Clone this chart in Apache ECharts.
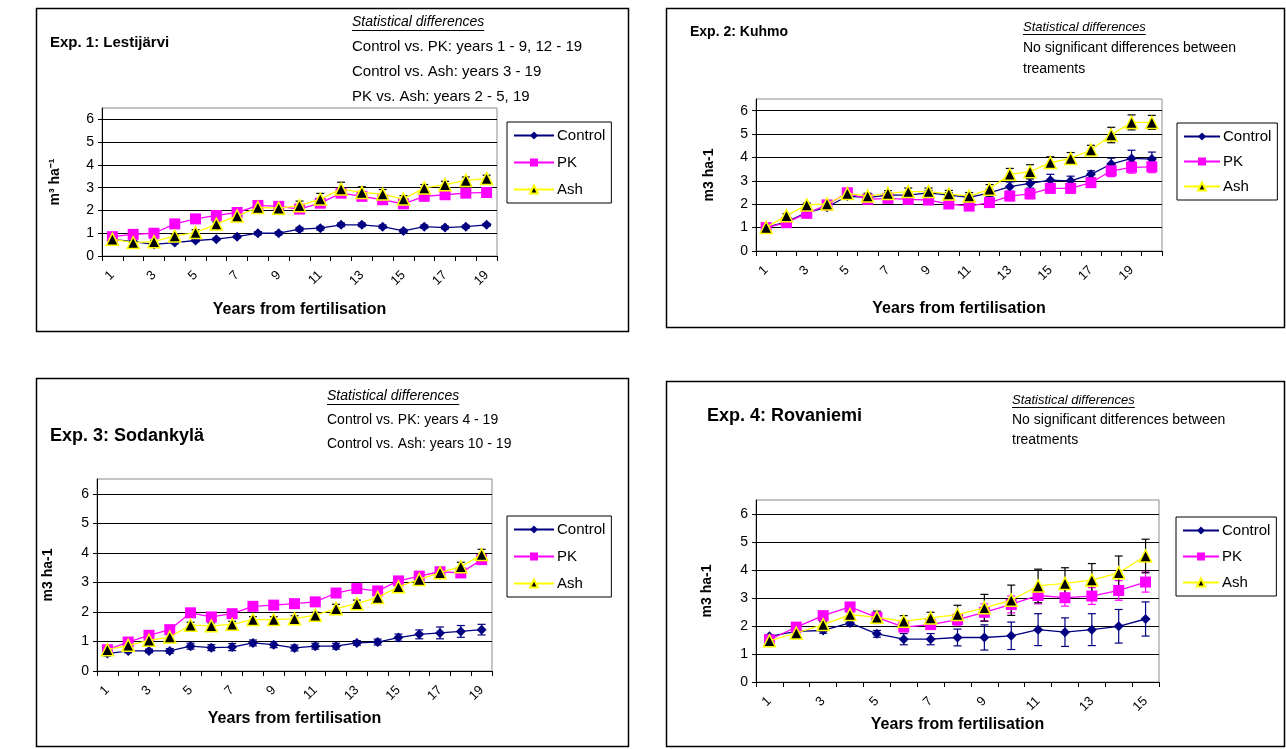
<!DOCTYPE html>
<html><head><meta charset="utf-8">
<script src="https://cdn.jsdelivr.net/npm/echarts@6/dist/echarts.min.js"></script>
<style>html,body{margin:0;padding:0;background:#fff}#c{width:1286px;height:749px}</style>
</head><body><div id="c"></div>
<script>
// ---------- DATA ----------
const years19 = ['1','2','3','4','5','6','7','8','9','10','11','12','13','14','15','16','17','18','19'];
const years20 = ['1','2','3','4','5','6','7','8','9','10','11','12','13','14','15','16','17','18','19','20'];
const years15 = ['1','2','3','4','5','6','7','8','9','10','11','12','13','14','15'];

// Exp. 1 Lestijärvi
const e1Control = [0.73,0.63,0.51,0.59,0.68,0.74,0.85,1.00,1.00,1.18,1.22,1.37,1.37,1.29,1.10,1.29,1.25,1.29,1.37];
const e1PK      = [0.85,0.95,1.00,1.41,1.63,1.78,1.91,2.22,2.18,2.06,2.32,2.76,2.62,2.47,2.29,2.62,2.69,2.76,2.79];
const e1Ash     = [0.74,0.59,0.63,0.88,1.03,1.40,1.76,2.13,2.10,2.21,2.50,2.94,2.79,2.72,2.50,2.99,3.13,3.32,3.40];
const e1ControlErr = [0.04,0.04,0.05,0.05,0.05,0.05,0.05,0.07,0.07,0.08,0.08,0.08,0.08,0.07,0.07,0.07,0.06,0.06,0.06];
const e1PKErr      = [0.05,0.05,0.05,0.07,0.08,0.08,0.08,0.1,0.1,0.1,0.12,0.12,0.12,0.1,0.1,0.1,0.1,0.1,0.1];
const e1AshErr     = [0.05,0.05,0.06,0.08,0.12,0.1,0.1,0.15,0.15,0.2,0.25,0.3,0.25,0.2,0.15,0.15,0.15,0.15,0.15];

// Exp. 2 Kuhmo
const e2Control = [1.01,1.25,1.64,1.87,2.35,2.28,2.39,2.39,2.49,2.39,2.29,2.49,2.75,2.89,3.03,3.00,3.28,3.72,3.96,3.93];
const e2PK      = [1.00,1.21,1.61,1.97,2.49,2.21,2.25,2.21,2.18,2.01,1.92,2.07,2.35,2.44,2.68,2.68,2.92,3.43,3.58,3.60];
const e2Ash     = [1.01,1.51,1.97,2.01,2.46,2.35,2.46,2.54,2.54,2.44,2.35,2.64,3.28,3.39,3.78,3.96,4.32,4.96,5.50,5.50];
const e2ControlErr = [0.05,0.05,0.08,0.08,0.1,0.1,0.1,0.1,0.1,0.1,0.1,0.15,0.2,0.2,0.25,0.2,0.15,0.25,0.35,0.3];
const e2PKErr      = [0.05,0.08,0.08,0.1,0.1,0.1,0.1,0.1,0.1,0.15,0.15,0.15,0.2,0.2,0.2,0.2,0.15,0.25,0.25,0.25];
const e2AshErr     = [0.05,0.08,0.08,0.08,0.1,0.12,0.12,0.15,0.15,0.15,0.15,0.2,0.25,0.3,0.25,0.25,0.2,0.33,0.32,0.3];

// Exp. 3 Sodankylä
const e3Control = [0.59,0.68,0.68,0.68,0.84,0.79,0.81,0.95,0.89,0.78,0.84,0.84,0.95,0.98,1.13,1.24,1.29,1.34,1.40];
const e3PK      = [0.72,0.98,1.21,1.40,1.97,1.83,1.94,2.19,2.23,2.28,2.34,2.64,2.79,2.71,3.05,3.21,3.36,3.32,3.77];
const e3Ash     = [0.72,0.87,1.04,1.15,1.55,1.53,1.58,1.74,1.74,1.77,1.89,2.11,2.28,2.49,2.85,3.10,3.33,3.53,3.94];
const e3ControlErr = [0.08,0.06,0.06,0.08,0.1,0.1,0.12,0.1,0.1,0.1,0.1,0.1,0.08,0.1,0.12,0.15,0.2,0.2,0.18];
const e3PKErr      = [0.06,0.06,0.06,0.08,0.08,0.08,0.08,0.08,0.1,0.1,0.1,0.1,0.1,0.1,0.1,0.1,0.1,0.12,0.15];
const e3AshErr     = [0.06,0.06,0.06,0.08,0.1,0.1,0.1,0.1,0.1,0.1,0.1,0.15,0.12,0.1,0.1,0.1,0.12,0.15,0.18];

// Exp. 4 Rovaniemi
const e4Control = [1.63,1.81,1.84,2.11,1.72,1.53,1.53,1.59,1.59,1.65,1.87,1.78,1.87,1.99,2.25];
const e4PK      = [1.51,1.96,2.37,2.68,2.31,1.96,2.05,2.23,2.49,2.77,3.09,3.01,3.07,3.27,3.57];
const e4Ash     = [1.47,1.75,2.05,2.41,2.31,2.17,2.29,2.41,2.65,2.92,3.43,3.52,3.64,3.90,4.50];
const e4ControlErr = [0.05,0.05,0.1,0.1,0.12,0.2,0.2,0.3,0.45,0.49,0.57,0.51,0.57,0.6,0.61];
const e4PKErr      = [0.05,0.05,0.1,0.1,0.1,0.1,0.15,0.2,0.3,0.3,0.3,0.3,0.3,0.35,0.36];
const e4AshErr     = [0.05,0.05,0.1,0.1,0.22,0.2,0.2,0.33,0.48,0.54,0.6,0.56,0.59,0.6,0.6];

// ---------- STYLE / LAYOUT ----------
const FONT = 'Liberation Sans, Arial, sans-serif';
const C_CTRL = '#000080', C_PK = '#FF00FF', C_ASH = '#FFFF00';

const panels = [
  {cats: years19, ctrl: e1Control, pk: e1PK, ash: e1Ash, ce: e1ControlErr, pe: e1PKErr, ae: e1AshErr,
   grid: {left:102, top:108, width:395, height:148}, yName: 'm³ ha⁻¹', yGap: 40, xGap: 46,
   legend: {left:507, top:122}, legendGap: 12, legendW: 40, legendFont: 15},
  {cats: years20, ctrl: e2Control, pk: e2PK, ash: e2Ash, ce: e2ControlErr, pe: e2PKErr, ae: e2AshErr,
   grid: {left:756, top:99, width:406, height:152}, yName: 'm3 ha-1', yGap: 40, xGap: 50,
   legend: {left:1177, top:123}, legendGap: 10, legendW: 36, legendFont: 15},
  {cats: years19, ctrl: e3Control, pk: e3PK, ash: e3Ash, ce: e3ControlErr, pe: e3PKErr, ae: e3AshErr,
   grid: {left:97, top:479, width:395, height:192}, yName: 'm3 ha-1', yGap: 42, xGap: 40,
   legend: {left:507, top:516}, legendGap: 12, legendW: 40, legendFont: 15},
  {cats: years15, ctrl: e4Control, pk: e4PK, ash: e4Ash, ce: e4ControlErr, pe: e4PKErr, ae: e4AshErr,
   grid: {left:756, top:500, width:403, height:182}, yName: 'm3 ha-1', yGap: 42, xGap: 33,
   legend: {left:1176, top:517}, legendGap: 11, legendW: 36, legendFont: 15}
];

const grids = [], xAxes = [], yAxes = [], series = [], legends = [];

function errSeries(idx, vals, errs, color, z) {
  return {
    type: 'custom', xAxisIndex: idx, yAxisIndex: idx, z: z, silent: true,
    data: vals.map((v, i) => [i, v, errs[i]]),
    renderItem: function (params, api) {
      const x = api.value(0), v = api.value(1), e = api.value(2);
      const top = api.coord([x, v + e]);
      const bot = api.coord([x, v - e]);
      const w = 4;
      const st = {stroke: color, lineWidth: 1.2};
      return {type: 'group', children: [
        {type: 'line', shape: {x1: top[0], y1: top[1], x2: bot[0], y2: bot[1]}, style: st},
        {type: 'line', shape: {x1: top[0]-w, y1: top[1], x2: top[0]+w, y2: top[1]}, style: st},
        {type: 'line', shape: {x1: bot[0]-w, y1: bot[1], x2: bot[0]+w, y2: bot[1]}, style: st}
      ]};
    }
  };
}

panels.forEach((p, i) => {
  grids.push(Object.assign({show: true, borderColor: '#8c8c8c', borderWidth: 1, backgroundColor: '#fff'}, p.grid));
  xAxes.push({
    type: 'category', gridIndex: i, data: p.cats, boundaryGap: true,
    name: 'Years from fertilisation', nameLocation: 'middle', nameGap: p.xGap,
    nameTextStyle: {fontFamily: FONT, fontWeight: 'bold', fontSize: 16, color: '#000'},
    axisLine: {show: true, lineStyle: {color: '#000', width: 1}},
    axisTick: {show: true, interval: 0, length: 5, lineStyle: {color: '#000'}},
    axisLabel: {interval: 1, rotate: 45, fontFamily: FONT, fontSize: 13, color: '#000', margin: 17},
    splitLine: {show: false}
  });
  yAxes.push({
    type: 'value', gridIndex: i, min: 0, max: 6.5, interval: 1,
    name: p.yName, nameLocation: 'middle', nameRotate: 90, nameGap: p.yGap,
    nameTextStyle: {fontFamily: FONT, fontWeight: 'bold', fontSize: 14, color: '#000'},
    axisLine: {show: true, lineStyle: {color: '#000', width: 1}},
    axisTick: {show: true, length: 4, lineStyle: {color: '#000'}},
    axisLabel: {fontFamily: FONT, fontSize: 14, color: '#000', margin: 8, showMaxLabel: false,
      formatter: v => (Number.isInteger(v) ? String(v) : '')},
    splitLine: {show: true, showMaxLine: false, lineStyle: {color: '#000', width: 1}}
  });
  series.push(errSeries(i, p.ctrl, p.ce, C_CTRL, 2));
  series.push(errSeries(i, p.pk, p.pe, C_PK, 2));
  series.push(errSeries(i, p.ash, p.ae, '#000', 2));
  series.push({name: 'Control', type: 'line', xAxisIndex: i, yAxisIndex: i, data: p.ctrl, z: 3,
    symbol: 'diamond', symbolSize: 10, lineStyle: {color: C_CTRL, width: 1.3},
    itemStyle: {color: C_CTRL}, emphasis: {disabled: true}});
  series.push({name: 'PK', type: 'line', xAxisIndex: i, yAxisIndex: i, data: p.pk, z: 4,
    symbol: 'rect', symbolSize: 11, lineStyle: {color: C_PK, width: 1.3},
    itemStyle: {color: C_PK}, emphasis: {disabled: true}});
  series.push({name: 'Ash', type: 'line', xAxisIndex: i, yAxisIndex: i, data: p.ash, z: 5,
    symbol: 'triangle', symbolSize: 12, lineStyle: {color: C_ASH, width: 1.3},
    itemStyle: {color: '#000', borderColor: C_ASH, borderWidth: 1.5}, emphasis: {disabled: true}});
  legends.push({
    left: p.legend.left, top: p.legend.top, orient: 'vertical', data: ['Control','PK','Ash'],
    borderColor: '#000', borderWidth: 1, padding: [6, 6, 6, 6], itemGap: p.legendGap,
    itemWidth: p.legendW, itemHeight: 10, selectedMode: false,
    textStyle: {fontFamily: FONT, fontSize: p.legendFont, color: '#000', padding: [0,0,0,-2]}
  });
});

// ---------- TEXT / FRAMES ----------
const frames = [
  {x: 36, y: 8, w: 592, h: 323},
  {x: 666, y: 8, w: 618, h: 319},
  {x: 36, y: 378, w: 592, h: 368},
  {x: 666, y: 381, w: 618, h: 365}
];
const titles = [
  {text: 'Exp. 1: Lestijärvi', x: 50, y: 43, size: 15},
  {text: 'Exp. 2: Kuhmo', x: 690, y: 32, size: 14},
  {text: 'Exp. 3: Sodankylä', x: 50, y: 436, size: 18},
  {text: 'Exp. 4: Rovaniemi', x: 707, y: 416, size: 18}
];
const stats = [
  {x: 352, y: 22, lines: ['Control vs. PK: years 1 - 9, 12 - 19', 'Control vs. Ash: years 3 - 19', 'PK vs. Ash: years 2 - 5, 19'], lh: 25, size: 15, hsize: 14},
  {x: 1023, y: 27, lines: ['No significant differences between', 'treaments'], lh: 21, size: 14, hsize: 13},
  {x: 327, y: 396, lines: ['Control vs. PK: years 4 - 19', 'Control vs. Ash: years 10 - 19'], lh: 24, size: 14, hsize: 14},
  {x: 1012, y: 400, lines: ['No significant ditferences between', 'treatments'], lh: 20, size: 14, hsize: 13}
];

const cv = document.createElement('canvas').getContext('2d');
function tw(txt, font) { cv.font = font; return cv.measureText(txt).width; }

const graphics = [];
frames.forEach(f => graphics.push({type: 'rect', shape: {x: f.x + 0.5, y: f.y + 0.5, width: f.w, height: f.h},
  style: {fill: 'none', stroke: '#000', lineWidth: 1.5}, z: 0, silent: true}));
titles.forEach(t => graphics.push({type: 'text', x: t.x, y: t.y, z: 10, silent: true,
  style: {text: t.text, font: 'bold ' + t.size + 'px ' + FONT, fill: '#000', textVerticalAlign: 'middle'}}));
stats.forEach(s => {
  const hf = 'italic ' + s.hsize + 'px ' + FONT;
  graphics.push({type: 'text', x: s.x, y: s.y, z: 10, silent: true,
    style: {text: 'Statistical differences', font: hf, fill: '#000', textVerticalAlign: 'middle'}});
  const w = tw('Statistical differences', hf);
  const uy = Math.round(s.y + s.hsize * 0.55) + 0.5;
  graphics.push({type: 'line', z: 10, silent: true, shape: {x1: s.x, y1: uy, x2: s.x + w, y2: uy},
    style: {stroke: '#000', lineWidth: 1}});
  s.lines.forEach((ln, k) => graphics.push({type: 'text', x: s.x, y: s.y + s.lh * (k + 1), z: 10, silent: true,
    style: {text: ln, font: s.size + 'px ' + FONT, fill: '#000', textVerticalAlign: 'middle'}}));
});

const chart = echarts.init(document.getElementById('c'), null, {renderer: 'canvas'});
chart.setOption({
  animation: false,
  backgroundColor: '#fff',
  grid: grids, xAxis: xAxes, yAxis: yAxes, series: series, legend: legends,
  graphic: graphics
});
</script></body></html>
